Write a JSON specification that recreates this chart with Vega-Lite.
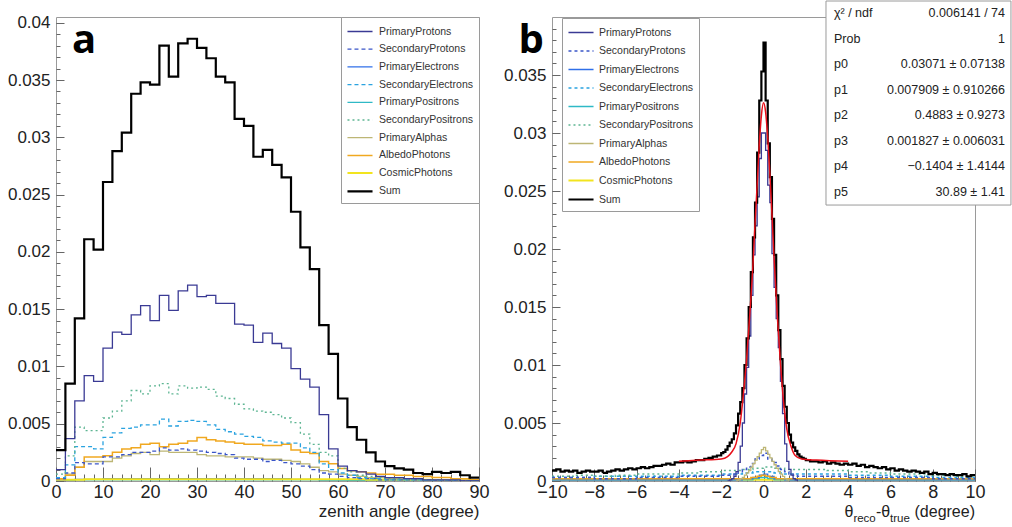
{
"$schema":"https://vega.github.io/schema/vega-lite/v6.json",
"background":"white",
"padding":{"left":6,"top":0,"right":0,"bottom":0},
"config":{
 "font":"Liberation Sans",
 "view":{"stroke":"#9a9a9a","strokeWidth":1},
 "axis":{"grid":false,"domain":false,"tickColor":"#666666","labelColor":"#222222","labelFont":"Liberation Sans","titleFont":"Liberation Sans","titleColor":"#222222","titleFontWeight":"normal","labelFlush":false,"labelOverlap":false}
},
"datasets":{
"a":[
{"s":"PrimaryElectrons","x":0,"y":0.0001},{"s":"PrimaryElectrons","x":4,"y":0.00015},{"s":"PrimaryElectrons","x":10,"y":0.0002},{"s":"PrimaryElectrons","x":30,"y":0.0002},{"s":"PrimaryElectrons","x":50,"y":0.00015},{"s":"PrimaryElectrons","x":56,"y":0.0001},{"s":"PrimaryElectrons","x":62,"y":0.00005},{"s":"PrimaryElectrons","x":70,"y":0},{"s":"PrimaryElectrons","x":90,"y":0},
{"s":"PrimaryPositrons","x":0,"y":0.00005},{"s":"PrimaryPositrons","x":4,"y":0.0001},{"s":"PrimaryPositrons","x":56,"y":0.00008},{"s":"PrimaryPositrons","x":62,"y":0.00004},{"s":"PrimaryPositrons","x":70,"y":0},{"s":"PrimaryPositrons","x":90,"y":0},
{"s":"CosmicPhotons","x":0,"y":0.0001},{"s":"CosmicPhotons","x":6,"y":0.00015},{"s":"CosmicPhotons","x":56,"y":0.00015},{"s":"CosmicPhotons","x":66,"y":0.0001},{"s":"CosmicPhotons","x":80,"y":0.00005},{"s":"CosmicPhotons","x":90,"y":0.00005},
{"s":"PrimaryAlphas","x":0,"y":0.0001},{"s":"PrimaryAlphas","x":2,"y":0.0006},{"s":"PrimaryAlphas","x":4,"y":0.0012},{"s":"PrimaryAlphas","x":6,"y":0.0017},{"s":"PrimaryAlphas","x":8,"y":0.0017},{"s":"PrimaryAlphas","x":10,"y":0.0017},{"s":"PrimaryAlphas","x":12,"y":0.002},{"s":"PrimaryAlphas","x":14,"y":0.0022},{"s":"PrimaryAlphas","x":16,"y":0.0024},{"s":"PrimaryAlphas","x":18,"y":0.0025},{"s":"PrimaryAlphas","x":20,"y":0.0023},{"s":"PrimaryAlphas","x":22,"y":0.0026},{"s":"PrimaryAlphas","x":24,"y":0.0025},{"s":"PrimaryAlphas","x":26,"y":0.0025},{"s":"PrimaryAlphas","x":28,"y":0.0025},{"s":"PrimaryAlphas","x":30,"y":0.0023},{"s":"PrimaryAlphas","x":32,"y":0.0022},{"s":"PrimaryAlphas","x":34,"y":0.0022},{"s":"PrimaryAlphas","x":36,"y":0.0021},{"s":"PrimaryAlphas","x":38,"y":0.0021},{"s":"PrimaryAlphas","x":40,"y":0.0021},{"s":"PrimaryAlphas","x":42,"y":0.002},{"s":"PrimaryAlphas","x":44,"y":0.0019},{"s":"PrimaryAlphas","x":46,"y":0.0019},{"s":"PrimaryAlphas","x":48,"y":0.0018},{"s":"PrimaryAlphas","x":50,"y":0.0017},{"s":"PrimaryAlphas","x":52,"y":0.0015},{"s":"PrimaryAlphas","x":54,"y":0.0012},{"s":"PrimaryAlphas","x":56,"y":0.0009},{"s":"PrimaryAlphas","x":58,"y":0.0008},{"s":"PrimaryAlphas","x":60,"y":0.0006},{"s":"PrimaryAlphas","x":62,"y":0.0005},{"s":"PrimaryAlphas","x":64,"y":0.0004},{"s":"PrimaryAlphas","x":66,"y":0.0003},{"s":"PrimaryAlphas","x":68,"y":0.0003},{"s":"PrimaryAlphas","x":70,"y":0.0002},{"s":"PrimaryAlphas","x":72,"y":0.0002},{"s":"PrimaryAlphas","x":74,"y":0.0002},{"s":"PrimaryAlphas","x":76,"y":0.0001},{"s":"PrimaryAlphas","x":90,"y":0.0001},
{"s":"AlbedoPhotons","x":0,"y":0.0002},{"s":"AlbedoPhotons","x":2,"y":0.0005},{"s":"AlbedoPhotons","x":4,"y":0.0012},{"s":"AlbedoPhotons","x":6,"y":0.0021},{"s":"AlbedoPhotons","x":8,"y":0.0021},{"s":"AlbedoPhotons","x":10,"y":0.0022},{"s":"AlbedoPhotons","x":12,"y":0.0025},{"s":"AlbedoPhotons","x":14,"y":0.0028},{"s":"AlbedoPhotons","x":16,"y":0.0029},{"s":"AlbedoPhotons","x":18,"y":0.0032},{"s":"AlbedoPhotons","x":20,"y":0.0033},{"s":"AlbedoPhotons","x":22,"y":0.003},{"s":"AlbedoPhotons","x":24,"y":0.0032},{"s":"AlbedoPhotons","x":26,"y":0.0033},{"s":"AlbedoPhotons","x":28,"y":0.0035},{"s":"AlbedoPhotons","x":30,"y":0.0038},{"s":"AlbedoPhotons","x":32,"y":0.0036},{"s":"AlbedoPhotons","x":34,"y":0.0035},{"s":"AlbedoPhotons","x":36,"y":0.0034},{"s":"AlbedoPhotons","x":38,"y":0.0033},{"s":"AlbedoPhotons","x":40,"y":0.0032},{"s":"AlbedoPhotons","x":42,"y":0.0032},{"s":"AlbedoPhotons","x":44,"y":0.0031},{"s":"AlbedoPhotons","x":46,"y":0.0031},{"s":"AlbedoPhotons","x":48,"y":0.0032},{"s":"AlbedoPhotons","x":50,"y":0.0027},{"s":"AlbedoPhotons","x":52,"y":0.0025},{"s":"AlbedoPhotons","x":54,"y":0.0024},{"s":"AlbedoPhotons","x":56,"y":0.0017},{"s":"AlbedoPhotons","x":58,"y":0.0015},{"s":"AlbedoPhotons","x":60,"y":0.0011},{"s":"AlbedoPhotons","x":62,"y":0.0009},{"s":"AlbedoPhotons","x":64,"y":0.0008},{"s":"AlbedoPhotons","x":66,"y":0.0007},{"s":"AlbedoPhotons","x":68,"y":0.0006},{"s":"AlbedoPhotons","x":70,"y":0.0006},{"s":"AlbedoPhotons","x":72,"y":0.0005},{"s":"AlbedoPhotons","x":74,"y":0.0005},{"s":"AlbedoPhotons","x":76,"y":0.0004},{"s":"AlbedoPhotons","x":78,"y":0.0004},{"s":"AlbedoPhotons","x":80,"y":0.0003},{"s":"AlbedoPhotons","x":82,"y":0.0003},{"s":"AlbedoPhotons","x":84,"y":0.0002},{"s":"AlbedoPhotons","x":86,"y":0.0002},{"s":"AlbedoPhotons","x":88,"y":0.0001},{"s":"AlbedoPhotons","x":90,"y":0.0001},
{"s":"SecondaryProtons","x":0,"y":0.0002},{"s":"SecondaryProtons","x":2,"y":0.0007},{"s":"SecondaryProtons","x":4,"y":0.0016},{"s":"SecondaryProtons","x":6,"y":0.0015},{"s":"SecondaryProtons","x":8,"y":0.0015},{"s":"SecondaryProtons","x":10,"y":0.0021},{"s":"SecondaryProtons","x":12,"y":0.0021},{"s":"SecondaryProtons","x":14,"y":0.0023},{"s":"SecondaryProtons","x":16,"y":0.0025},{"s":"SecondaryProtons","x":18,"y":0.0025},{"s":"SecondaryProtons","x":20,"y":0.0026},{"s":"SecondaryProtons","x":22,"y":0.0029},{"s":"SecondaryProtons","x":24,"y":0.0027},{"s":"SecondaryProtons","x":26,"y":0.0028},{"s":"SecondaryProtons","x":28,"y":0.0027},{"s":"SecondaryProtons","x":30,"y":0.0026},{"s":"SecondaryProtons","x":32,"y":0.0025},{"s":"SecondaryProtons","x":34,"y":0.0024},{"s":"SecondaryProtons","x":36,"y":0.0023},{"s":"SecondaryProtons","x":38,"y":0.002},{"s":"SecondaryProtons","x":40,"y":0.0019},{"s":"SecondaryProtons","x":42,"y":0.0019},{"s":"SecondaryProtons","x":44,"y":0.0017},{"s":"SecondaryProtons","x":46,"y":0.0018},{"s":"SecondaryProtons","x":48,"y":0.0016},{"s":"SecondaryProtons","x":50,"y":0.0015},{"s":"SecondaryProtons","x":52,"y":0.0013},{"s":"SecondaryProtons","x":54,"y":0.001},{"s":"SecondaryProtons","x":56,"y":0.0007},{"s":"SecondaryProtons","x":58,"y":0.0006},{"s":"SecondaryProtons","x":60,"y":0.0004},{"s":"SecondaryProtons","x":62,"y":0.0003},{"s":"SecondaryProtons","x":64,"y":0.0002},{"s":"SecondaryProtons","x":66,"y":0.0002},{"s":"SecondaryProtons","x":68,"y":0.0001},{"s":"SecondaryProtons","x":80,"y":0},{"s":"SecondaryProtons","x":90,"y":0},
{"s":"SecondaryElectrons","x":0,"y":0.0003},{"s":"SecondaryElectrons","x":2,"y":0.0014},{"s":"SecondaryElectrons","x":4,"y":0.003},{"s":"SecondaryElectrons","x":6,"y":0.003},{"s":"SecondaryElectrons","x":8,"y":0.0028},{"s":"SecondaryElectrons","x":10,"y":0.0038},{"s":"SecondaryElectrons","x":12,"y":0.0042},{"s":"SecondaryElectrons","x":14,"y":0.0046},{"s":"SecondaryElectrons","x":16,"y":0.0047},{"s":"SecondaryElectrons","x":18,"y":0.0049},{"s":"SecondaryElectrons","x":20,"y":0.0049},{"s":"SecondaryElectrons","x":22,"y":0.0054},{"s":"SecondaryElectrons","x":24,"y":0.0048},{"s":"SecondaryElectrons","x":26,"y":0.0052},{"s":"SecondaryElectrons","x":28,"y":0.0053},{"s":"SecondaryElectrons","x":30,"y":0.0052},{"s":"SecondaryElectrons","x":32,"y":0.0049},{"s":"SecondaryElectrons","x":34,"y":0.0045},{"s":"SecondaryElectrons","x":36,"y":0.0043},{"s":"SecondaryElectrons","x":38,"y":0.0041},{"s":"SecondaryElectrons","x":40,"y":0.0039},{"s":"SecondaryElectrons","x":42,"y":0.0038},{"s":"SecondaryElectrons","x":44,"y":0.0035},{"s":"SecondaryElectrons","x":46,"y":0.0034},{"s":"SecondaryElectrons","x":48,"y":0.0033},{"s":"SecondaryElectrons","x":50,"y":0.0033},{"s":"SecondaryElectrons","x":52,"y":0.0029},{"s":"SecondaryElectrons","x":54,"y":0.0025},{"s":"SecondaryElectrons","x":56,"y":0.0015},{"s":"SecondaryElectrons","x":58,"y":0.001},{"s":"SecondaryElectrons","x":60,"y":0.0007},{"s":"SecondaryElectrons","x":62,"y":0.0005},{"s":"SecondaryElectrons","x":64,"y":0.0003},{"s":"SecondaryElectrons","x":66,"y":0.0002},{"s":"SecondaryElectrons","x":68,"y":0.0002},{"s":"SecondaryElectrons","x":70,"y":0.0001},{"s":"SecondaryElectrons","x":78,"y":0},{"s":"SecondaryElectrons","x":90,"y":0},
{"s":"SecondaryPositrons","x":0,"y":0.0006},{"s":"SecondaryPositrons","x":2,"y":0.0022},{"s":"SecondaryPositrons","x":4,"y":0.0047},{"s":"SecondaryPositrons","x":6,"y":0.0044},{"s":"SecondaryPositrons","x":8,"y":0.0044},{"s":"SecondaryPositrons","x":10,"y":0.0055},{"s":"SecondaryPositrons","x":12,"y":0.0061},{"s":"SecondaryPositrons","x":14,"y":0.007},{"s":"SecondaryPositrons","x":16,"y":0.0079},{"s":"SecondaryPositrons","x":18,"y":0.0076},{"s":"SecondaryPositrons","x":20,"y":0.0083},{"s":"SecondaryPositrons","x":22,"y":0.0085},{"s":"SecondaryPositrons","x":24,"y":0.0076},{"s":"SecondaryPositrons","x":26,"y":0.0083},{"s":"SecondaryPositrons","x":28,"y":0.0081},{"s":"SecondaryPositrons","x":30,"y":0.0082},{"s":"SecondaryPositrons","x":32,"y":0.008},{"s":"SecondaryPositrons","x":34,"y":0.0074},{"s":"SecondaryPositrons","x":36,"y":0.0072},{"s":"SecondaryPositrons","x":38,"y":0.0067},{"s":"SecondaryPositrons","x":40,"y":0.0063},{"s":"SecondaryPositrons","x":42,"y":0.0061},{"s":"SecondaryPositrons","x":44,"y":0.006},{"s":"SecondaryPositrons","x":46,"y":0.0058},{"s":"SecondaryPositrons","x":48,"y":0.0055},{"s":"SecondaryPositrons","x":50,"y":0.0051},{"s":"SecondaryPositrons","x":52,"y":0.0041},{"s":"SecondaryPositrons","x":54,"y":0.0032},{"s":"SecondaryPositrons","x":56,"y":0.0025},{"s":"SecondaryPositrons","x":58,"y":0.0022},{"s":"SecondaryPositrons","x":60,"y":0.0011},{"s":"SecondaryPositrons","x":62,"y":0.0008},{"s":"SecondaryPositrons","x":64,"y":0.0005},{"s":"SecondaryPositrons","x":66,"y":0.0004},{"s":"SecondaryPositrons","x":68,"y":0.0003},{"s":"SecondaryPositrons","x":70,"y":0.0002},{"s":"SecondaryPositrons","x":72,"y":0.0002},{"s":"SecondaryPositrons","x":74,"y":0.0001},{"s":"SecondaryPositrons","x":82,"y":0},{"s":"SecondaryPositrons","x":90,"y":0},
{"s":"PrimaryProtons","x":0,"y":0.001},{"s":"PrimaryProtons","x":2,"y":0.0037},{"s":"PrimaryProtons","x":4,"y":0.007},{"s":"PrimaryProtons","x":6,"y":0.0092},{"s":"PrimaryProtons","x":8,"y":0.0087},{"s":"PrimaryProtons","x":10,"y":0.0116},{"s":"PrimaryProtons","x":12,"y":0.013},{"s":"PrimaryProtons","x":14,"y":0.0128},{"s":"PrimaryProtons","x":16,"y":0.0145},{"s":"PrimaryProtons","x":18,"y":0.0153},{"s":"PrimaryProtons","x":20,"y":0.014},{"s":"PrimaryProtons","x":22,"y":0.0162},{"s":"PrimaryProtons","x":24,"y":0.0149},{"s":"PrimaryProtons","x":26,"y":0.0166},{"s":"PrimaryProtons","x":28,"y":0.0171},{"s":"PrimaryProtons","x":30,"y":0.0161},{"s":"PrimaryProtons","x":32,"y":0.0162},{"s":"PrimaryProtons","x":34,"y":0.0155},{"s":"PrimaryProtons","x":36,"y":0.0155},{"s":"PrimaryProtons","x":38,"y":0.0137},{"s":"PrimaryProtons","x":40,"y":0.0136},{"s":"PrimaryProtons","x":42,"y":0.0121},{"s":"PrimaryProtons","x":44,"y":0.0129},{"s":"PrimaryProtons","x":46,"y":0.012},{"s":"PrimaryProtons","x":48,"y":0.0116},{"s":"PrimaryProtons","x":50,"y":0.0098},{"s":"PrimaryProtons","x":52,"y":0.0089},{"s":"PrimaryProtons","x":54,"y":0.0082},{"s":"PrimaryProtons","x":56,"y":0.0058},{"s":"PrimaryProtons","x":58,"y":0.0028},{"s":"PrimaryProtons","x":60,"y":0.0013},{"s":"PrimaryProtons","x":62,"y":0.0009},{"s":"PrimaryProtons","x":64,"y":0.0008},{"s":"PrimaryProtons","x":66,"y":0.0006},{"s":"PrimaryProtons","x":68,"y":0.0004},{"s":"PrimaryProtons","x":70,"y":0.0003},{"s":"PrimaryProtons","x":72,"y":0.0003},{"s":"PrimaryProtons","x":74,"y":0.0002},{"s":"PrimaryProtons","x":76,"y":0.0002},{"s":"PrimaryProtons","x":78,"y":0.0001},{"s":"PrimaryProtons","x":86,"y":0},{"s":"PrimaryProtons","x":90,"y":0},
{"s":"Sum","x":0,"y":0.0027},{"s":"Sum","x":2,"y":0.0085},{"s":"Sum","x":4,"y":0.0142},{"s":"Sum","x":6,"y":0.0211},{"s":"Sum","x":8,"y":0.0202},{"s":"Sum","x":10,"y":0.0261},{"s":"Sum","x":12,"y":0.0288},{"s":"Sum","x":14,"y":0.0304},{"s":"Sum","x":16,"y":0.0338},{"s":"Sum","x":18,"y":0.0348},{"s":"Sum","x":20,"y":0.0346},{"s":"Sum","x":22,"y":0.038},{"s":"Sum","x":24,"y":0.0353},{"s":"Sum","x":26,"y":0.0382},{"s":"Sum","x":28,"y":0.0386},{"s":"Sum","x":30,"y":0.0378},{"s":"Sum","x":32,"y":0.0369},{"s":"Sum","x":34,"y":0.0353},{"s":"Sum","x":36,"y":0.0348},{"s":"Sum","x":38,"y":0.0316},{"s":"Sum","x":40,"y":0.031},{"s":"Sum","x":42,"y":0.0283},{"s":"Sum","x":44,"y":0.0289},{"s":"Sum","x":46,"y":0.0276},{"s":"Sum","x":48,"y":0.0265},{"s":"Sum","x":50,"y":0.0235},{"s":"Sum","x":52,"y":0.0204},{"s":"Sum","x":54,"y":0.0185},{"s":"Sum","x":56,"y":0.0136},{"s":"Sum","x":58,"y":0.0111},{"s":"Sum","x":60,"y":0.0072},{"s":"Sum","x":62,"y":0.0047},{"s":"Sum","x":64,"y":0.0036},{"s":"Sum","x":66,"y":0.0025},{"s":"Sum","x":68,"y":0.0017},{"s":"Sum","x":70,"y":0.0013},{"s":"Sum","x":72,"y":0.0011},{"s":"Sum","x":74,"y":0.001},{"s":"Sum","x":76,"y":0.0007},{"s":"Sum","x":78,"y":0.0006},{"s":"Sum","x":80,"y":0.0008},{"s":"Sum","x":82,"y":0.0007},{"s":"Sum","x":84,"y":0.0008},{"s":"Sum","x":86,"y":0.0005},{"s":"Sum","x":88,"y":0.0003},{"s":"Sum","x":90,"y":0.0003}
],
"b":[
{"s":"CosmicPhotons","x":-10,"y":0.0001},{"s":"CosmicPhotons","x":10,"y":0.0001},
{"s":"PrimaryPositrons","x":-10,"y":0.0001},{"s":"PrimaryPositrons","x":-0.5,"y":0.0002},{"s":"PrimaryPositrons","x":-0.2,"y":0.0003},{"s":"PrimaryPositrons","x":0.2,"y":0.0002},{"s":"PrimaryPositrons","x":0.5,"y":0.0001},{"s":"PrimaryPositrons","x":10,"y":0.0001},
{"s":"PrimaryElectrons","x":-10,"y":0.0001},{"s":"PrimaryElectrons","x":-1,"y":0.0002},{"s":"PrimaryElectrons","x":-0.5,"y":0.0003},{"s":"PrimaryElectrons","x":-0.2,"y":0.0005},{"s":"PrimaryElectrons","x":0,"y":0.0006},{"s":"PrimaryElectrons","x":0.2,"y":0.0004},{"s":"PrimaryElectrons","x":0.5,"y":0.0002},{"s":"PrimaryElectrons","x":1,"y":0.0001},{"s":"PrimaryElectrons","x":10,"y":0.0001},
{"s":"AlbedoPhotons","x":-10,"y":0.0002},{"s":"AlbedoPhotons","x":-0.6,"y":0.0003},{"s":"AlbedoPhotons","x":-0.3,"y":0.0004},{"s":"AlbedoPhotons","x":-0.1,"y":0.0005},{"s":"AlbedoPhotons","x":0.1,"y":0.0004},{"s":"AlbedoPhotons","x":0.3,"y":0.0003},{"s":"AlbedoPhotons","x":0.6,"y":0.0002},{"s":"AlbedoPhotons","x":10,"y":0.0002},
{"s":"SecondaryElectrons","x":-10,"y":0.0003},{"s":"SecondaryElectrons","x":-8,"y":0.0004},{"s":"SecondaryElectrons","x":-6,"y":0.0004},{"s":"SecondaryElectrons","x":-4,"y":0.0005},{"s":"SecondaryElectrons","x":-2,"y":0.0006},{"s":"SecondaryElectrons","x":-1,"y":0.0007},{"s":"SecondaryElectrons","x":-0.5,"y":0.0008},{"s":"SecondaryElectrons","x":0,"y":0.0008},{"s":"SecondaryElectrons","x":0.5,"y":0.0007},{"s":"SecondaryElectrons","x":1,"y":0.0006},{"s":"SecondaryElectrons","x":2,"y":0.0006},{"s":"SecondaryElectrons","x":4,"y":0.0005},{"s":"SecondaryElectrons","x":6,"y":0.0004},{"s":"SecondaryElectrons","x":8,"y":0.0003},{"s":"SecondaryElectrons","x":10,"y":0.0003},
{"s":"SecondaryPositrons","x":-10,"y":0.0004},{"s":"SecondaryPositrons","x":-9,"y":0.0005},{"s":"SecondaryPositrons","x":-8,"y":0.0004},{"s":"SecondaryPositrons","x":-7,"y":0.0005},{"s":"SecondaryPositrons","x":-6,"y":0.0006},{"s":"SecondaryPositrons","x":-5,"y":0.0006},{"s":"SecondaryPositrons","x":-4,"y":0.0007},{"s":"SecondaryPositrons","x":-3,"y":0.0008},{"s":"SecondaryPositrons","x":-2,"y":0.0009},{"s":"SecondaryPositrons","x":-1,"y":0.001},{"s":"SecondaryPositrons","x":-0.5,"y":0.0011},{"s":"SecondaryPositrons","x":0,"y":0.0012},{"s":"SecondaryPositrons","x":0.5,"y":0.0011},{"s":"SecondaryPositrons","x":1,"y":0.001},{"s":"SecondaryPositrons","x":2,"y":0.001},{"s":"SecondaryPositrons","x":3,"y":0.0009},{"s":"SecondaryPositrons","x":4,"y":0.0008},{"s":"SecondaryPositrons","x":5,"y":0.0007},{"s":"SecondaryPositrons","x":6,"y":0.0006},{"s":"SecondaryPositrons","x":7,"y":0.0006},{"s":"SecondaryPositrons","x":8,"y":0.0005},{"s":"SecondaryPositrons","x":9,"y":0.0004},{"s":"SecondaryPositrons","x":10,"y":0.0004},
{"s":"SecondaryProtons","x":-10,"y":0.0003},{"s":"SecondaryProtons","x":-8,"y":0.0002},{"s":"SecondaryProtons","x":-6,"y":0.0003},{"s":"SecondaryProtons","x":-4,"y":0.0004},{"s":"SecondaryProtons","x":-2,"y":0.0005},{"s":"SecondaryProtons","x":-1.4,"y":0.0006},{"s":"SecondaryProtons","x":-1.2,"y":0.0008},{"s":"SecondaryProtons","x":-1,"y":0.001},{"s":"SecondaryProtons","x":-0.8,"y":0.0012},{"s":"SecondaryProtons","x":-0.6,"y":0.0015},{"s":"SecondaryProtons","x":-0.4,"y":0.0019},{"s":"SecondaryProtons","x":-0.2,"y":0.0022},{"s":"SecondaryProtons","x":0,"y":0.0024},{"s":"SecondaryProtons","x":0.2,"y":0.0019},{"s":"SecondaryProtons","x":0.4,"y":0.0016},{"s":"SecondaryProtons","x":0.6,"y":0.0013},{"s":"SecondaryProtons","x":0.8,"y":0.001},{"s":"SecondaryProtons","x":1,"y":0.0008},{"s":"SecondaryProtons","x":1.2,"y":0.0006},{"s":"SecondaryProtons","x":1.4,"y":0.0005},{"s":"SecondaryProtons","x":1.6,"y":0.0004},{"s":"SecondaryProtons","x":4,"y":0.0003},{"s":"SecondaryProtons","x":8,"y":0.0002},{"s":"SecondaryProtons","x":10,"y":0.0002},
{"s":"PrimaryAlphas","x":-1.3,"y":0},{"s":"PrimaryAlphas","x":-1.2,"y":0.0001},{"s":"PrimaryAlphas","x":-1.1,"y":0.0002},{"s":"PrimaryAlphas","x":-1,"y":0.0003},{"s":"PrimaryAlphas","x":-0.9,"y":0.0005},{"s":"PrimaryAlphas","x":-0.8,"y":0.0007},{"s":"PrimaryAlphas","x":-0.7,"y":0.0009},{"s":"PrimaryAlphas","x":-0.6,"y":0.0012},{"s":"PrimaryAlphas","x":-0.5,"y":0.0015},{"s":"PrimaryAlphas","x":-0.4,"y":0.0018},{"s":"PrimaryAlphas","x":-0.3,"y":0.0021},{"s":"PrimaryAlphas","x":-0.2,"y":0.0024},{"s":"PrimaryAlphas","x":-0.1,"y":0.0027},{"s":"PrimaryAlphas","x":0,"y":0.0029},{"s":"PrimaryAlphas","x":0.1,"y":0.0026},{"s":"PrimaryAlphas","x":0.2,"y":0.0023},{"s":"PrimaryAlphas","x":0.3,"y":0.002},{"s":"PrimaryAlphas","x":0.4,"y":0.0017},{"s":"PrimaryAlphas","x":0.5,"y":0.0014},{"s":"PrimaryAlphas","x":0.6,"y":0.0011},{"s":"PrimaryAlphas","x":0.7,"y":0.0008},{"s":"PrimaryAlphas","x":0.8,"y":0.0006},{"s":"PrimaryAlphas","x":0.9,"y":0.0004},{"s":"PrimaryAlphas","x":1,"y":0.0002},{"s":"PrimaryAlphas","x":1.1,"y":0.0001},{"s":"PrimaryAlphas","x":1.2,"y":0},
{"s":"PrimaryProtons","x":-1.7,"y":0},{"s":"PrimaryProtons","x":-1.6,"y":0.0001},{"s":"PrimaryProtons","x":-1.5,"y":0.0002},{"s":"PrimaryProtons","x":-1.4,"y":0.0004},{"s":"PrimaryProtons","x":-1.3,"y":0.0008},{"s":"PrimaryProtons","x":-1.2,"y":0.0016},{"s":"PrimaryProtons","x":-1.1,"y":0.003},{"s":"PrimaryProtons","x":-1,"y":0.005},{"s":"PrimaryProtons","x":-0.9,"y":0.0075},{"s":"PrimaryProtons","x":-0.8,"y":0.0098},{"s":"PrimaryProtons","x":-0.7,"y":0.0125},{"s":"PrimaryProtons","x":-0.6,"y":0.016},{"s":"PrimaryProtons","x":-0.5,"y":0.0195},{"s":"PrimaryProtons","x":-0.4,"y":0.022},{"s":"PrimaryProtons","x":-0.3,"y":0.0245},{"s":"PrimaryProtons","x":-0.2,"y":0.0278},{"s":"PrimaryProtons","x":-0.1,"y":0.03},{"s":"PrimaryProtons","x":0,"y":0.03},{"s":"PrimaryProtons","x":0.1,"y":0.0285},{"s":"PrimaryProtons","x":0.2,"y":0.0255},{"s":"PrimaryProtons","x":0.3,"y":0.024},{"s":"PrimaryProtons","x":0.4,"y":0.0196},{"s":"PrimaryProtons","x":0.5,"y":0.0167},{"s":"PrimaryProtons","x":0.6,"y":0.014},{"s":"PrimaryProtons","x":0.7,"y":0.0115},{"s":"PrimaryProtons","x":0.8,"y":0.0086},{"s":"PrimaryProtons","x":0.9,"y":0.0058},{"s":"PrimaryProtons","x":1,"y":0.0032},{"s":"PrimaryProtons","x":1.1,"y":0.0017},{"s":"PrimaryProtons","x":1.2,"y":0.001},{"s":"PrimaryProtons","x":1.3,"y":0.0005},{"s":"PrimaryProtons","x":1.4,"y":0.0002},{"s":"PrimaryProtons","x":1.5,"y":0.0001},{"s":"PrimaryProtons","x":1.6,"y":0},
{"s":"Sum","x":-10,"y":0.0009},{"s":"Sum","x":-9.8,"y":0.001},{"s":"Sum","x":-9.6,"y":0.0008},{"s":"Sum","x":-9.4,"y":0.0009},{"s":"Sum","x":-9.2,"y":0.0008},{"s":"Sum","x":-9,"y":0.0009},{"s":"Sum","x":-8.8,"y":0.0007},{"s":"Sum","x":-8.6,"y":0.0008},{"s":"Sum","x":-8.4,"y":0.0009},{"s":"Sum","x":-8.2,"y":0.0008},{"s":"Sum","x":-8,"y":0.0008},{"s":"Sum","x":-7.8,"y":0.0009},{"s":"Sum","x":-7.6,"y":0.0007},{"s":"Sum","x":-7.4,"y":0.0008},{"s":"Sum","x":-7.2,"y":0.0009},{"s":"Sum","x":-7,"y":0.001},{"s":"Sum","x":-6.8,"y":0.0009},{"s":"Sum","x":-6.6,"y":0.001},{"s":"Sum","x":-6.4,"y":0.0011},{"s":"Sum","x":-6.2,"y":0.001},{"s":"Sum","x":-6,"y":0.0011},{"s":"Sum","x":-5.8,"y":0.0012},{"s":"Sum","x":-5.6,"y":0.0011},{"s":"Sum","x":-5.4,"y":0.0012},{"s":"Sum","x":-5.2,"y":0.0013},{"s":"Sum","x":-5,"y":0.0013},{"s":"Sum","x":-4.8,"y":0.0014},{"s":"Sum","x":-4.6,"y":0.0015},{"s":"Sum","x":-4.4,"y":0.0014},{"s":"Sum","x":-4.2,"y":0.0016},{"s":"Sum","x":-4,"y":0.0016},{"s":"Sum","x":-3.8,"y":0.0017},{"s":"Sum","x":-3.6,"y":0.0016},{"s":"Sum","x":-3.4,"y":0.0017},{"s":"Sum","x":-3.2,"y":0.0018},{"s":"Sum","x":-3,"y":0.0018},{"s":"Sum","x":-2.8,"y":0.0019},{"s":"Sum","x":-2.6,"y":0.002},{"s":"Sum","x":-2.4,"y":0.0021},{"s":"Sum","x":-2.2,"y":0.0022},{"s":"Sum","x":-2,"y":0.0024},{"s":"Sum","x":-1.9,"y":0.0025},{"s":"Sum","x":-1.8,"y":0.0027},{"s":"Sum","x":-1.7,"y":0.003},{"s":"Sum","x":-1.6,"y":0.0033},{"s":"Sum","x":-1.5,"y":0.0036},{"s":"Sum","x":-1.4,"y":0.0041},{"s":"Sum","x":-1.3,"y":0.0048},{"s":"Sum","x":-1.2,"y":0.0058},{"s":"Sum","x":-1.1,"y":0.0068},{"s":"Sum","x":-1,"y":0.008},{"s":"Sum","x":-0.9,"y":0.01},{"s":"Sum","x":-0.8,"y":0.0123},{"s":"Sum","x":-0.7,"y":0.015},{"s":"Sum","x":-0.6,"y":0.018},{"s":"Sum","x":-0.5,"y":0.021},{"s":"Sum","x":-0.4,"y":0.024},{"s":"Sum","x":-0.3,"y":0.0283},{"s":"Sum","x":-0.2,"y":0.0328},{"s":"Sum","x":-0.1,"y":0.0353},{"s":"Sum","x":0,"y":0.0378},{"s":"Sum","x":0.1,"y":0.0328},{"s":"Sum","x":0.2,"y":0.0291},{"s":"Sum","x":0.3,"y":0.0262},{"s":"Sum","x":0.4,"y":0.0226},{"s":"Sum","x":0.5,"y":0.0195},{"s":"Sum","x":0.6,"y":0.016},{"s":"Sum","x":0.7,"y":0.013},{"s":"Sum","x":0.8,"y":0.0105},{"s":"Sum","x":0.9,"y":0.0082},{"s":"Sum","x":1,"y":0.0064},{"s":"Sum","x":1.1,"y":0.005},{"s":"Sum","x":1.2,"y":0.004},{"s":"Sum","x":1.3,"y":0.0033},{"s":"Sum","x":1.4,"y":0.0029},{"s":"Sum","x":1.5,"y":0.0026},{"s":"Sum","x":1.6,"y":0.0023},{"s":"Sum","x":1.7,"y":0.0021},{"s":"Sum","x":1.8,"y":0.002},{"s":"Sum","x":1.9,"y":0.0019},{"s":"Sum","x":2,"y":0.0018},{"s":"Sum","x":2.2,"y":0.0017},{"s":"Sum","x":2.4,"y":0.0017},{"s":"Sum","x":2.6,"y":0.0016},{"s":"Sum","x":2.8,"y":0.0017},{"s":"Sum","x":3,"y":0.0015},{"s":"Sum","x":3.2,"y":0.0016},{"s":"Sum","x":3.4,"y":0.0015},{"s":"Sum","x":3.6,"y":0.0014},{"s":"Sum","x":3.8,"y":0.0015},{"s":"Sum","x":4,"y":0.0014},{"s":"Sum","x":4.2,"y":0.0015},{"s":"Sum","x":4.4,"y":0.0013},{"s":"Sum","x":4.6,"y":0.0014},{"s":"Sum","x":4.8,"y":0.0012},{"s":"Sum","x":5,"y":0.0013},{"s":"Sum","x":5.2,"y":0.0012},{"s":"Sum","x":5.4,"y":0.0011},{"s":"Sum","x":5.6,"y":0.0012},{"s":"Sum","x":5.8,"y":0.001},{"s":"Sum","x":6,"y":0.0011},{"s":"Sum","x":6.2,"y":0.0009},{"s":"Sum","x":6.4,"y":0.001},{"s":"Sum","x":6.6,"y":0.0009},{"s":"Sum","x":6.8,"y":0.0008},{"s":"Sum","x":7,"y":0.0009},{"s":"Sum","x":7.2,"y":0.0008},{"s":"Sum","x":7.4,"y":0.0007},{"s":"Sum","x":7.6,"y":0.0008},{"s":"Sum","x":7.8,"y":0.0006},{"s":"Sum","x":8,"y":0.0007},{"s":"Sum","x":8.2,"y":0.0006},{"s":"Sum","x":8.4,"y":0.0006},{"s":"Sum","x":8.6,"y":0.0005},{"s":"Sum","x":8.8,"y":0.0006},{"s":"Sum","x":9,"y":0.0005},{"s":"Sum","x":9.2,"y":0.0005},{"s":"Sum","x":9.4,"y":0.0006},{"s":"Sum","x":9.6,"y":0.0004},{"s":"Sum","x":9.8,"y":0.0005},{"s":"Sum","x":10,"y":0.0005}
],
"fit":[
{"x":-4,"y":0.0017},{"x":-3,"y":0.0018},{"x":-2,"y":0.0019},{"x":-1.7,"y":0.0021},{"x":-1.5,"y":0.0025},{"x":-1.3,"y":0.0032},{"x":-1.1,"y":0.005},{"x":-0.95,"y":0.0075},{"x":-0.8,"y":0.0105},{"x":-0.65,"y":0.0143},{"x":-0.5,"y":0.0186},{"x":-0.4,"y":0.0222},{"x":-0.3,"y":0.0255},{"x":-0.2,"y":0.029},{"x":-0.1,"y":0.0315},{"x":0,"y":0.0326},{"x":0.1,"y":0.0318},{"x":0.2,"y":0.0296},{"x":0.3,"y":0.0265},{"x":0.4,"y":0.023},{"x":0.5,"y":0.0192},{"x":0.65,"y":0.0143},{"x":0.8,"y":0.0102},{"x":0.95,"y":0.0068},{"x":1.1,"y":0.0045},{"x":1.3,"y":0.003},{"x":1.5,"y":0.0022},{"x":1.8,"y":0.0019},{"x":2.5,"y":0.0018},{"x":4,"y":0.0017}
],
"stats":[
{"r":0,"k":"χ² / ndf","v":"0.006141 / 74"},
{"r":1,"k":"Prob","v":"1"},
{"r":2,"k":"p0","v":"0.03071 ± 0.07138"},
{"r":3,"k":"p1","v":"0.007909 ± 0.910266"},
{"r":4,"k":"p2","v":"0.4883 ± 0.9273"},
{"r":5,"k":"p3","v":"0.001827 ± 0.006031"},
{"r":6,"k":"p4","v":"−0.1404 ± 1.4144"},
{"r":7,"k":"p5","v":"30.89 ± 1.41"}
]
},
"spacing":12,
"resolve":{"scale":{"color":"independent","strokeDash":"independent","strokeWidth":"independent"},"legend":{"color":"independent","strokeDash":"independent","strokeWidth":"independent"}},
"hconcat":[
{
 "width":423,"height":464,
 "layer":[
  {"data":{"name":"a"},
   "mark":{"type":"line","interpolate":"step-after","clip":true},
   "encoding":{
    "x":{"field":"x","type":"quantitative","scale":{"domain":[0,90],"nice":false,"zero":false},
         "axis":{"orient":"bottom","values":[0,10,20,30,40,50,60,70,80,90],"tickSize":-14,"labelPadding":16,"labelFontSize":18,"format":"d","title":"zenith angle (degree)","titleFontSize":17,"titleAnchor":"end","titlePadding":2}},
    "y":{"field":"y","type":"quantitative","scale":{"domain":[0,0.0405],"nice":false},
         "axis":{"orient":"left","values":[0,0.005,0.01,0.015,0.02,0.025,0.03,0.035,0.04],"tickSize":-8,"labelPadding":14,"labelFontSize":17,"format":"~g","title":null}},
    "color":{"field":"s","type":"nominal","title":null,
      "scale":{"domain":["PrimaryProtons","SecondaryProtons","PrimaryElectrons","SecondaryElectrons","PrimaryPositrons","SecondaryPositrons","PrimaryAlphas","AlbedoPhotons","CosmicPhotons","Sum"],"range":["#3a3a94","#3a55c8","#2f6fe8","#2aa3e0","#2fb9c6","#5db592","#bdb675","#f0a820","#f2e41e","#000000"]},
      "legend":{"title":null,"orient":"top-right","offset":0,"padding":6,"fillColor":"white","strokeColor":"#9a9a9a","labelFontSize":10.5,"labelColor":"#333333","labelFont":"Liberation Sans","symbolType":"M-1.67,0H1.67","symbolSize":225,"symbolOffset":4,"rowPadding":3.7,"labelOffset":10,"labelLimit":200}},
    "strokeDash":{"field":"s","type":"nominal","title":null,
      "scale":{"domain":["PrimaryProtons","SecondaryProtons","PrimaryElectrons","SecondaryElectrons","PrimaryPositrons","SecondaryPositrons","PrimaryAlphas","AlbedoPhotons","CosmicPhotons","Sum"],"range":[[1,0],[4,3],[1,0],[4,3],[1,0],[2,3],[1,0],[1,0],[1,0],[1,0]]},
      "legend":{"title":null,"orient":"top-right","offset":0,"padding":6,"fillColor":"white","strokeColor":"#9a9a9a","labelFontSize":10.5,"labelColor":"#333333","labelFont":"Liberation Sans","symbolType":"M-1.67,0H1.67","symbolSize":225,"symbolOffset":4,"rowPadding":3.7,"labelOffset":10,"labelLimit":200}},
    "strokeWidth":{"field":"s","type":"nominal","title":null,
      "scale":{"type":"ordinal","domain":["PrimaryProtons","SecondaryProtons","PrimaryElectrons","SecondaryElectrons","PrimaryPositrons","SecondaryPositrons","PrimaryAlphas","AlbedoPhotons","CosmicPhotons","Sum"],"range":[1.3,1.3,1.3,1.3,1.3,1.3,1.3,1.5,2,2.2]},
      "legend":{"title":null,"orient":"top-right","offset":0,"padding":6,"fillColor":"white","strokeColor":"#9a9a9a","labelFontSize":10.5,"labelColor":"#333333","labelFont":"Liberation Sans","symbolType":"M-1.67,0H1.67","symbolSize":225,"symbolOffset":4,"rowPadding":3.7,"labelOffset":10,"labelLimit":200}}
   }},
  {"data":{"values":[{}]},
   "mark":{"type":"text","text":"a","font":"Open Sans","fontWeight":"bold","fontSize":40,"align":"center","baseline":"alphabetic","color":"#000000"},
   "encoding":{"x":{"datum":5.96,"type":"quantitative","scale":{"domain":[0,90],"nice":false,"zero":false},"axis":null},"y":{"datum":0.0374,"type":"quantitative","scale":{"domain":[0,0.0405],"nice":false},"axis":null}}},
  {"data":{"values":[{}]},
   "mark":{"type":"rule","opacity":0},
   "encoding":{"x":{"datum":0,"type":"quantitative","scale":{"domain":[0,90],"nice":false,"zero":false},"axis":{"orient":"bottom","values":[0,2,4,6,8,10,12,14,16,18,20,22,24,26,28,30,32,34,36,38,40,42,44,46,48,50,52,54,56,58,60,62,64,66,68,70,72,74,76,78,80,82,84,86,88,90],"tickSize":-7,"labels":false,"title":null}}}},
  {"data":{"values":[{}]},
   "mark":{"type":"rule","opacity":0},
   "encoding":{"y":{"datum":0,"type":"quantitative","scale":{"domain":[0,0.0405],"nice":false},"axis":{"orient":"left","values":[0,0.001,0.002,0.003,0.004,0.005,0.006,0.007,0.008,0.009,0.01,0.011,0.012,0.013,0.014,0.015,0.016,0.017,0.018,0.019,0.02,0.021,0.022,0.023,0.024,0.025,0.026,0.027,0.028,0.029,0.03,0.031,0.032,0.033,0.034,0.035,0.036,0.037,0.038,0.039,0.04],"tickSize":-4,"labels":false,"title":null}}}}
 ],
 "resolve":{"axis":{"x":"independent","y":"independent"}}
},
{
 "width":423,"height":464,
 "layer":[
  {"layer":[
   {"data":{"name":"b"},
    "mark":{"type":"line","interpolate":"step-after","clip":true},
    "encoding":{
     "x":{"field":"x","type":"quantitative","scale":{"domain":[-10,10],"nice":false,"zero":false},
          "axis":{"orient":"bottom","values":[-10,-8,-6,-4,-2,0,2,4,6,8,10],"tickSize":-12,"labelPadding":14,"labelFontSize":18,"title":null}},
     "y":{"field":"y","type":"quantitative","scale":{"domain":[0,0.04],"nice":false},
          "axis":{"orient":"left","values":[0,0.005,0.01,0.015,0.02,0.025,0.03,0.035],"tickSize":-8,"labelPadding":14,"labelFontSize":17,"format":"~g","title":null}},
     "color":{"field":"s","type":"nominal","title":null,
      "scale":{"domain":["PrimaryProtons","SecondaryProtons","PrimaryElectrons","SecondaryElectrons","PrimaryPositrons","SecondaryPositrons","PrimaryAlphas","AlbedoPhotons","CosmicPhotons","Sum"],"range":["#3a3a94","#3a55c8","#2f6fe8","#2aa3e0","#2fb9c6","#5db592","#bdb675","#f0a820","#f2e41e","#000000"]},
      "legend":{"title":null,"orient":"none","legendX":10,"legendY":1,"padding":6,"fillColor":"white","strokeColor":"#9a9a9a","labelFontSize":10.5,"labelColor":"#333333","labelFont":"Liberation Sans","symbolType":"M-1.67,0H1.67","symbolSize":225,"symbolOffset":4,"rowPadding":4.5,"labelOffset":9,"labelLimit":200}},
     "strokeDash":{"field":"s","type":"nominal","title":null,
      "scale":{"domain":["PrimaryProtons","SecondaryProtons","PrimaryElectrons","SecondaryElectrons","PrimaryPositrons","SecondaryPositrons","PrimaryAlphas","AlbedoPhotons","CosmicPhotons","Sum"],"range":[[1,0],[3,3],[1,0],[3,3],[1,0],[2,3],[1,0],[1,0],[1,0],[1,0]]},
      "legend":{"title":null,"orient":"none","legendX":10,"legendY":1,"padding":6,"fillColor":"white","strokeColor":"#9a9a9a","labelFontSize":10.5,"labelColor":"#333333","labelFont":"Liberation Sans","symbolType":"M-1.67,0H1.67","symbolSize":225,"symbolOffset":4,"rowPadding":4.5,"labelOffset":9,"labelLimit":200}},
     "strokeWidth":{"field":"s","type":"nominal","title":null,
      "scale":{"type":"ordinal","domain":["PrimaryProtons","SecondaryProtons","PrimaryElectrons","SecondaryElectrons","PrimaryPositrons","SecondaryPositrons","PrimaryAlphas","AlbedoPhotons","CosmicPhotons","Sum"],"range":[1.3,1.5,1.3,1.5,1.3,1.5,1.3,1.5,2,2.2]},
      "legend":{"title":null,"orient":"none","legendX":10,"legendY":1,"padding":6,"fillColor":"white","strokeColor":"#9a9a9a","labelFontSize":10.5,"labelColor":"#333333","labelFont":"Liberation Sans","symbolType":"M-1.67,0H1.67","symbolSize":225,"symbolOffset":4,"rowPadding":4.5,"labelOffset":9,"labelLimit":200}}
    }},
   {"data":{"name":"fit"},
    "mark":{"type":"line","interpolate":"monotone","color":"#e8101a","strokeWidth":1.5},
    "encoding":{"x":{"field":"x","type":"quantitative","scale":{"domain":[-10,10],"nice":false,"zero":false},"axis":null},"y":{"field":"y","type":"quantitative","scale":{"domain":[0,0.04],"nice":false},"axis":null}}},
   {"data":{"values":[{}]},
    "mark":{"type":"text","text":"b","font":"Open Sans","fontWeight":"bold","fontSize":40,"align":"center","baseline":"alphabetic","color":"#000000"},
    "encoding":{"x":{"datum":-10.99,"type":"quantitative","scale":{"domain":[-10,10],"nice":false,"zero":false},"axis":null},"y":{"datum":0.0369,"type":"quantitative","scale":{"domain":[0,0.04],"nice":false},"axis":null}}},
   {"data":{"values":[{}]},
    "mark":{"type":"text","text":"θ","font":"Liberation Sans","fontSize":16,"align":"left","baseline":"alphabetic","color":"#222222"},
    "encoding":{"x":{"datum":3.83,"type":"quantitative","scale":{"domain":[-10,10],"nice":false,"zero":false},"axis":null},"y":{"datum":-0.0031,"type":"quantitative","scale":{"domain":[0,0.04],"nice":false},"axis":null}}},
   {"data":{"values":[{}]},
    "mark":{"type":"text","text":"reco","font":"Liberation Sans","fontSize":11.5,"align":"left","baseline":"alphabetic","color":"#222222"},
    "encoding":{"x":{"datum":4.25,"type":"quantitative","scale":{"domain":[-10,10],"nice":false,"zero":false},"axis":null},"y":{"datum":-0.00355,"type":"quantitative","scale":{"domain":[0,0.04],"nice":false},"axis":null}}},
   {"data":{"values":[{}]},
    "mark":{"type":"text","text":"-θ","font":"Liberation Sans","fontSize":16,"align":"left","baseline":"alphabetic","color":"#222222"},
    "encoding":{"x":{"datum":5.32,"type":"quantitative","scale":{"domain":[-10,10],"nice":false,"zero":false},"axis":null},"y":{"datum":-0.0031,"type":"quantitative","scale":{"domain":[0,0.04],"nice":false},"axis":null}}},
   {"data":{"values":[{}]},
    "mark":{"type":"text","text":"true","font":"Liberation Sans","fontSize":11.5,"align":"left","baseline":"alphabetic","color":"#222222"},
    "encoding":{"x":{"datum":5.98,"type":"quantitative","scale":{"domain":[-10,10],"nice":false,"zero":false},"axis":null},"y":{"datum":-0.00355,"type":"quantitative","scale":{"domain":[0,0.04],"nice":false},"axis":null}}},
   {"data":{"values":[{}]},
    "mark":{"type":"text","text":"(degree)","font":"Liberation Sans","fontSize":16,"align":"right","baseline":"alphabetic","color":"#222222"},
    "encoding":{"x":{"datum":10,"type":"quantitative","scale":{"domain":[-10,10],"nice":false,"zero":false},"axis":null},"y":{"datum":-0.0031,"type":"quantitative","scale":{"domain":[0,0.04],"nice":false},"axis":null}}},
   {"data":{"values":[{}]},
    "mark":{"type":"rule","opacity":0},
    "encoding":{"x":{"datum":0,"type":"quantitative","scale":{"domain":[-10,10],"nice":false,"zero":false},"axis":{"orient":"bottom","values":[-10,-9.6,-9.2,-8.8,-8.4,-8,-7.6,-7.2,-6.8,-6.4,-6,-5.6,-5.2,-4.8,-4.4,-4,-3.6,-3.2,-2.8,-2.4,-2,-1.6,-1.2,-0.8,-0.4,0,0.4,0.8,1.2,1.6,2,2.4,2.8,3.2,3.6,4,4.4,4.8,5.2,5.6,6,6.4,6.8,7.2,7.6,8,8.4,8.8,9.2,9.6,10],"tickSize":-6,"labels":false,"title":null}}}},
   {"data":{"values":[{}]},
    "mark":{"type":"rule","opacity":0},
    "encoding":{"y":{"datum":0,"type":"quantitative","scale":{"domain":[0,0.04],"nice":false},"axis":{"orient":"left","values":[0,0.001,0.002,0.003,0.004,0.005,0.006,0.007,0.008,0.009,0.01,0.011,0.012,0.013,0.014,0.015,0.016,0.017,0.018,0.019,0.02,0.021,0.022,0.023,0.024,0.025,0.026,0.027,0.028,0.029,0.03,0.031,0.032,0.033,0.034,0.035,0.036,0.037,0.038,0.039],"tickSize":-4,"labels":false,"title":null}}}}
  ],
  "resolve":{"axis":{"x":"independent","y":"independent"}}
  },
  {"layer":[
   {"data":{"values":[{}]},
    "mark":{"type":"rect","fill":"white","stroke":"#9a9a9a","strokeWidth":1},
    "encoding":{"x":{"datum":2.955,"type":"quantitative","scale":{"domain":[-10,10],"nice":false,"zero":false},"axis":null},"x2":{"datum":11.7},
                "y":{"datum":-0.47,"type":"quantitative","scale":{"domain":[0.157,18.35],"reverse":true,"nice":false,"zero":false},"axis":null},"y2":{"datum":7.53}}},
   {"data":{"name":"stats"},
    "mark":{"type":"text","align":"left","baseline":"middle","font":"Liberation Sans","fontSize":12.5,"color":"#222222"},
    "encoding":{"x":{"datum":3.33,"type":"quantitative","scale":{"domain":[-10,10],"nice":false,"zero":false},"axis":null},
                "y":{"field":"r","type":"quantitative","scale":{"domain":[0.157,18.35],"reverse":true,"nice":false,"zero":false},"axis":null},
                "text":{"field":"k"}}},
   {"data":{"name":"stats"},
    "mark":{"type":"text","align":"right","baseline":"middle","font":"Liberation Sans","fontSize":12.5,"color":"#222222"},
    "encoding":{"x":{"datum":11.42,"type":"quantitative","scale":{"domain":[-10,10],"nice":false,"zero":false},"axis":null},
                "y":{"field":"r","type":"quantitative","scale":{"domain":[0.157,18.35],"reverse":true,"nice":false,"zero":false},"axis":null},
                "text":{"field":"v"}}}
  ]}
 ],
 "resolve":{"scale":{"y":"independent"},"axis":{"x":"independent","y":"independent"}}
}
]
}
